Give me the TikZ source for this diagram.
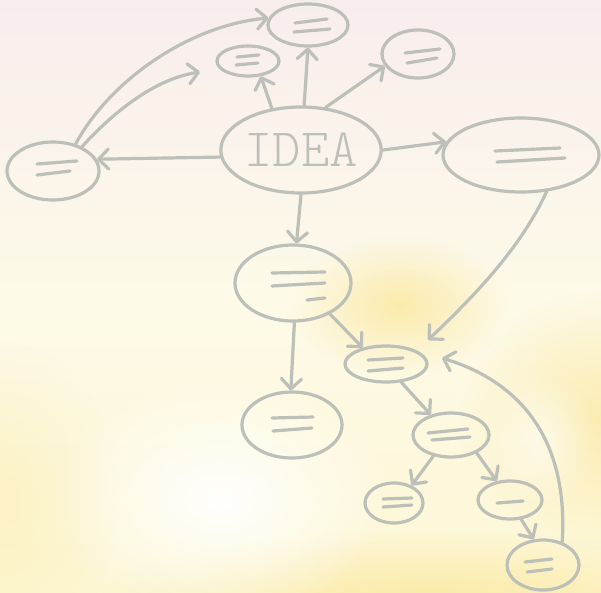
\documentclass[tikz,border=0pt]{standalone}
\usepackage{fontspec}
\newfontfamily\ideafont{lmmonolt10-regular.otf}
\usetikzlibrary{shapes.geometric,arrows.meta,fadings}
\definecolor{ink}{RGB}{189,192,184}
\definecolor{bgtop}{RGB}{248,237,237}
\definecolor{bgmid}{RGB}{253,250,232}
\definecolor{bgbot}{RGB}{253,247,212}
\definecolor{yel}{RGB}{250,228,145}
\tikzfading[name=fuzzy, inner color=transparent!0, outer color=transparent!100]
\begin{document}
\begin{tikzpicture}[x=1pt,y=-1pt,
  bub/.style={draw=ink, line width=3.2pt, ellipse, inner sep=0pt},
  arr/.style={draw=ink, line width=3.2pt, line cap=round, line join=round,
    -{Straight Barb[length=10pt,width=20pt,line cap=round,line join=round]}},
  txt/.style={draw=ink, line width=3.2pt, line cap=round}]
% background
\useasboundingbox (0,0) rectangle (601,592);
\shade[top color=bgtop, bottom color=bgbot, middle color=bgmid] (0,0) rectangle (601,592);
\fill[yel, path fading=fuzzy, fill opacity=0.7] (400,305) ellipse [x radius=110, y radius=70];
\fill[yel, path fading=fuzzy, fill opacity=0.6] (600,420) ellipse [x radius=140, y radius=130];
\fill[yel, path fading=fuzzy, fill opacity=0.7] (430,600) ellipse [x radius=330, y radius=70];
\fill[yel, path fading=fuzzy, fill opacity=0.3] (0,500) ellipse [x radius=120, y radius=160];
\fill[white, path fading=fuzzy, fill opacity=0.95] (220,500) ellipse [x radius=170, y radius=120];
\fill[white, path fading=fuzzy, fill opacity=0.6] (540,440) ellipse [x radius=60, y radius=70];

% nodes
\node[bub, minimum width=138pt, minimum height=86pt, text=ink] (idea) at (301,150)
  {\ideafont\fontsize{54}{54}\selectfont IDEA};
\node[bub, minimum width=80pt, minimum height=42pt] (topc) at (308,25) {};
\node[bub, minimum width=62pt, minimum height=30pt] (small) at (248,61) {};
\node[bub, minimum width=72pt, minimum height=48pt] (rtop) at (418,54) {};
\node[bub, minimum width=92pt, minimum height=58pt] (left) at (53,171) {};
\node[bub, minimum width=156pt, minimum height=74pt] (right) at (521,155) {};
\node[bub, minimum width=116pt, minimum height=76pt] (mid) at (293,283) {};
\node[bub, minimum width=82pt, minimum height=36pt] (n362) at (386,364) {};
\node[bub, minimum width=100pt, minimum height=66pt] (bl) at (292,425) {};
\node[bub, minimum width=76pt, minimum height=44pt] (n435) at (451,435) {};
\node[bub, minimum width=58pt, minimum height=40pt] (n503) at (394,503) {};
\node[bub, minimum width=64pt, minimum height=38pt] (n500) at (510,500) {};
\node[bub, minimum width=72pt, minimum height=50pt] (n565) at (543,565) {};

\coordinate (smalltip) at (200,72);
\coordinate (tipa) at (428,340);
\coordinate (tipb) at (442,358);

% placeholder strokes
\draw[txt] (295,23) -- (327,19);
\draw[txt] (294,32) -- (330,29);
\draw[txt] (237,57) -- (259,55);
\draw[txt] (236,65) -- (258,63);
\draw[txt] (405,53) -- (440,49);
\draw[txt] (407,63) -- (437,58);
\draw[txt] (37,164) -- (77,161);
\draw[txt] (37,175) -- (70,171);
\draw[txt] (495,151) -- (560,148);
\draw[txt] (497,162) -- (565,158);
\draw[txt] (272,273) -- (325,272);
\draw[txt] (272,286) -- (325,283);
\draw[txt] (307,300) -- (325,298);
\draw[txt] (368,360) -- (403,358);
\draw[txt] (368,371) -- (403,368);
\draw[txt] (272,418) -- (313,417);
\draw[txt] (273,431) -- (312,428);
\draw[txt] (428,433) -- (468,429);
\draw[txt] (432,440) -- (470,437);
\draw[txt] (383,499) -- (412,498);
\draw[txt] (383,507) -- (412,505);
\draw[txt] (497,503) -- (523,501);
\draw[txt] (525,562) -- (552,559);
\draw[txt] (527,572) -- (552,569);

% connectors
\draw[arr] (idea.86) -- (topc.south);
\draw[arr] (idea.125) -- (small.-50);
\draw[arr] (idea.60) -- (rtop.200);
\draw[arr] (idea.185) -- (left.15);
\draw[arr] (idea.east) -- (right.170);
\draw[arr] (idea.south) -- (mid.85);
\draw[arr] (left.50) .. controls (110,80) and (190,25) .. (topc.170);
\draw[arr] (left.40) .. controls (120,105) and (160,78) .. (smalltip);
\draw[arr] (mid.-88) -- (bl.92);
\draw[arr] (mid.-40) -- (n362.145);
\draw[arr] (right.-55) .. controls (520,250) and (470,300) .. (tipa);
\draw[arr] (n362.-50) -- (n435.135);
\draw[arr] (n435.-130) -- (n503.45);
\draw[arr] (n435.-35) -- (n500.125);
\draw[arr] (n500.-60) -- (n565.110);
\draw[arr] (n565.50) .. controls (568,450) and (530,385) .. (tipb);
\end{tikzpicture}
\end{document}
